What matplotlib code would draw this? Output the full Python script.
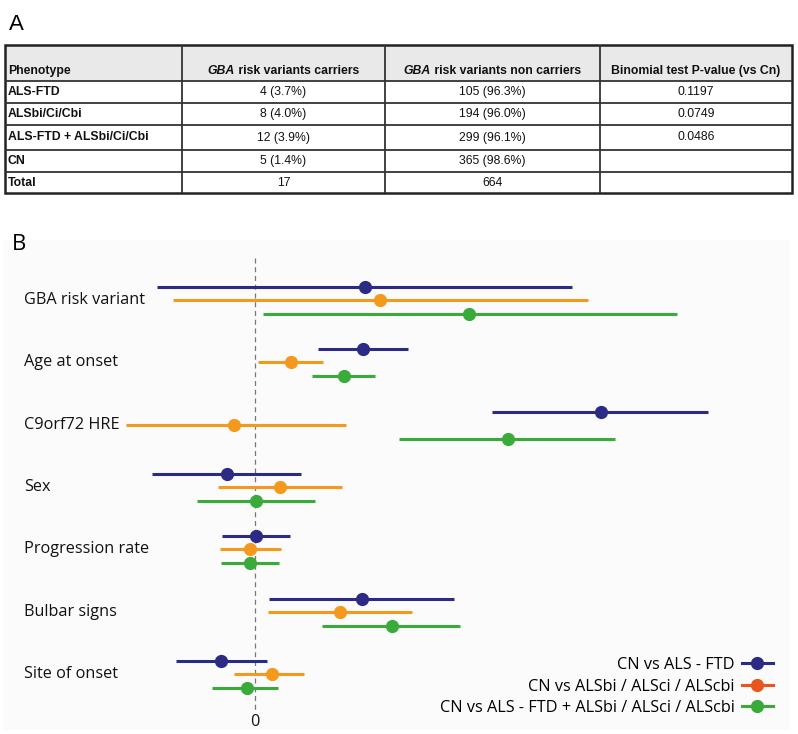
import matplotlib
matplotlib.use("Agg")
import matplotlib.pyplot as plt
from matplotlib import font_manager
from matplotlib.font_manager import FontProperties
from matplotlib.lines import Line2D
from matplotlib.patches import Rectangle

# ---- panel A: table data ----
table_header = ["Phenotype", "GBA| risk variants carriers",
                "GBA| risk variants non carriers", "Binomial test P-value (vs Cn)"]
phenotypes = ["ALS-FTD", "ALSbi/Ci/Cbi", "ALS-FTD + ALSbi/Ci/Cbi", "CN", "Total"]
carriers = ["4 (3.7%)", "8 (4.0%)", "12 (3.9%)", "5 (1.4%)", "17"]
non_carriers = ["105 (96.3%)", "194 (96.0%)", "299 (96.1%)", "365 (98.6%)", "664"]
p_values = ["0.1197", "0.0749", "0.0486", "", ""]

# ---- panel B: forest plot data (effect, lower, upper) ----
variables = ["GBA risk variant", "Age at onset", "C9orf72 HRE", "Sex",
             "Progression rate", "Bulbar signs", "Site of onset"]
series_names = ["CN vs ALS - FTD", "CN vs ALSbi / ALSci / ALScbi",
                "CN vs ALS - FTD + ALSbi / ALSci / ALScbi"]
ftd_est = [1.10, 1.08, 3.46, -0.28, 0.01, 1.07, -0.34]
ftd_lo = [-0.98, 0.63, 2.37, -1.03, -0.33, 0.14, -0.79]
ftd_hi = [3.17, 1.53, 4.53, 0.46, 0.35, 1.99, 0.12]
bi_est = [1.25, 0.36, -0.21, 0.25, -0.05, 0.85, 0.17]
bi_lo = [-0.82, 0.03, -1.29, -0.37, -0.35, 0.13, -0.21]
bi_hi = [3.33, 0.68, 0.91, 0.87, 0.26, 1.57, 0.49]
all_est = [2.14, 0.89, 2.53, 0.01, -0.05, 1.37, -0.08]
all_lo = [0.08, 0.57, 1.44, -0.58, -0.34, 0.67, -0.43]
all_hi = [4.22, 1.20, 3.60, 0.60, 0.24, 2.05, 0.23]

colors = ["#2b2a84", "#f39a1e", "#3aab3a"]
legend_colors = ["#2b2a84", "#e8561e", "#3aab3a"]


def liberation(style, size=8.8):
    # pick the regular-width Liberation Sans file (not the Narrow one)
    want = "LiberationSans-" + style + "."
    for f in font_manager.fontManager.ttflist:
        if f.fname.split("/")[-1].startswith(want):
            return FontProperties(fname=f.fname, size=size)
    return FontProperties(family="Liberation Sans", weight="bold" if "Bold" in style else "normal",
                          style="italic" if "Italic" in style else "normal", size=size)


f_reg = liberation("Regular")
f_bold = liberation("Bold")
f_bolditalic = liberation("BoldItalic")

W, H = 798, 734
fig = plt.figure(figsize=(W / 100, H / 100), dpi=100)
renderer = fig.canvas.get_renderer()

fig.text(9 / W, 1 - 24 / H, "A", fontproperties=liberation("Regular", 16), va="center")

# ---- table ----
tx0, tx1, ty0, ty1 = 5, 792, 45, 193
tab = fig.add_axes([tx0 / W, 1 - ty1 / H, (tx1 - tx0) / W, (ty1 - ty0) / H])
tab.set_xlim(tx0, tx1)
tab.set_ylim(ty1, ty0)
tab.axis("off")
col_edges = [5, 182, 385, 600, 792]
row_edges = [45, 81, 103, 125, 150, 172, 193]
tab.add_patch(Rectangle((col_edges[0], row_edges[0]), col_edges[-1] - col_edges[0],
                        row_edges[1] - row_edges[0], facecolor="#e9e9e9", edgecolor="none"))
for x in col_edges[1:-1]:
    tab.plot([x, x], [row_edges[0], row_edges[-1]], color="#333333", lw=1.3)
for y in row_edges[1:-1]:
    tab.plot([col_edges[0], col_edges[-1]], [y, y], color="#333333", lw=1.3)
tab.add_patch(Rectangle((col_edges[0], row_edges[0]), col_edges[-1] - col_edges[0],
                        row_edges[-1] - row_edges[0], facecolor="none", edgecolor="#222222",
                        lw=1.8, clip_on=False))

for j, txt in enumerate(table_header):
    if j == 0:
        tab.text(col_edges[0] + 3, 71, txt, ha="left", va="center", fontproperties=f_bold, color="#111111")
    elif "|" in txt:
        # italic gene name followed by bold text, centred as one piece
        gene, rest = txt.split("|")
        t1 = tab.text(0, 71, gene, ha="left", va="center", fontproperties=f_bolditalic, color="#111111")
        t2 = tab.text(0, 71, rest, ha="left", va="center", fontproperties=f_bold, color="#111111")
        w1 = t1.get_window_extent(renderer).width
        w2 = t2.get_window_extent(renderer).width
        left = (col_edges[j] + col_edges[j + 1]) / 2 - (w1 + w2) / 2
        t1.set_x(left)
        t2.set_x(left + w1)
    else:
        tab.text((col_edges[j] + col_edges[j + 1]) / 2, 71, txt, ha="center", va="center",
                 fontproperties=f_bold, color="#111111")
rows = list(zip(phenotypes, carriers, non_carriers, p_values))
for i, row in enumerate(rows):
    yc = (row_edges[i + 1] + row_edges[i + 2]) / 2
    tab.text(col_edges[0] + 3, yc, row[0], ha="left", va="center", fontproperties=f_bold, color="#111111")
    for j in range(1, 4):
        tab.text((col_edges[j] + col_edges[j + 1]) / 2, yc, row[j], ha="center", va="center",
                 fontproperties=f_reg, color="#111111")

# ---- panel B ----
fig.patches.append(Rectangle((3 / W, 1 - 730 / H), 787 / W, 490 / H, transform=fig.transFigure,
                             facecolor="#fbfbfb", edgecolor="none", zorder=-1))
fig.text(12 / W, 1 - 244 / H, "B", fontsize=16, family="Open Sans", va="center")

ax = fig.add_axes([0, 0, 1, (H - 230) / H])
ax.set_xlim(-2.55, 5.43)
ax.set_ylim(6.963, -1.123)
ax.axis("off")

ax.plot([0, 0], [-0.674, 6.578], ls=(0, (4, 3)), color="#777777", lw=0.9, zorder=1)
ax.text(0, 6.77, "0", ha="center", va="center", fontsize=11.7, family="Open Sans", color="#111111")

offsets = [-0.21, 0.0, 0.225]
series = [(ftd_est, ftd_lo, ftd_hi), (bi_est, bi_lo, bi_hi), (all_est, all_lo, all_hi)]
for k, (est, lo, hi) in enumerate(series):
    for i in range(len(variables)):
        y = i + offsets[k]
        ax.plot([lo[i], hi[i]], [y, y], color=colors[k], lw=2.2, solid_capstyle="butt", zorder=2)
        ax.plot(est[i], y, "o", color=colors[k], ms=8.5, zorder=3)

for i, name in enumerate(variables):
    ax.text(-2.31, i, name, ha="left", va="center", fontsize=11.7, family="Open Sans", color="#111111")

handles = [Line2D([0], [0], color=c, lw=2.2, marker="o", ms=8.5) for c in legend_colors]
leg = fig.legend(handles, series_names, loc="lower right", bbox_to_anchor=(781 / W, 1 - 724 / H),
                 markerfirst=False, frameon=False, handlelength=1.9, handletextpad=0.45,
                 labelspacing=0.33, borderpad=0, prop={"family": "Open Sans", "size": 11.7})

fig.savefig("out.png", dpi=100)
